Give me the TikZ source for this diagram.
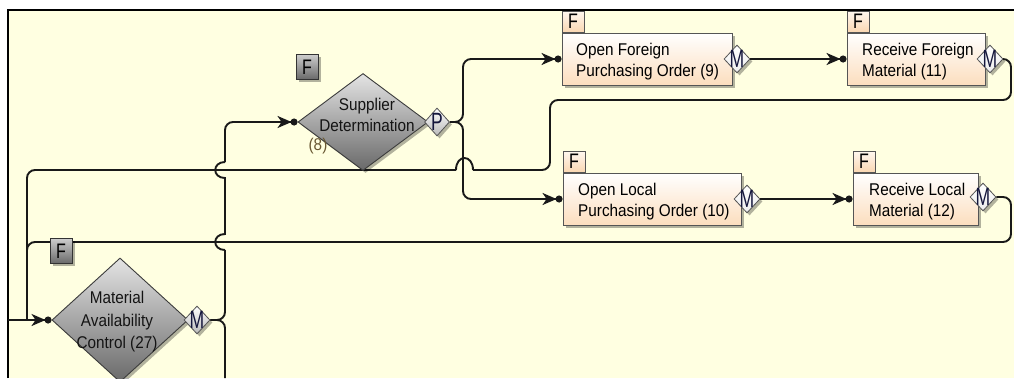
\documentclass[tikz,border=0pt]{standalone}
\usepackage{fontspec}
\setmainfont{Liberation Sans}[FakeStretch=0.9]
\usetikzlibrary{shapes.geometric,arrows.meta,shadows}
\definecolor{bgy}{RGB}{255,255,225}
\definecolor{linec}{RGB}{25,25,25}
\definecolor{dborder}{RGB}{60,60,60}
\definecolor{dtop}{RGB}{228,228,228}
\definecolor{dbot}{RGB}{105,105,105}
\definecolor{peach}{RGB}{252,222,190}
\definecolor{bborder}{RGB}{85,85,85}
\definecolor{ftop}{RGB}{255,248,240}
\definecolor{fbot}{RGB}{250,215,178}
\definecolor{gftop}{RGB}{205,205,205}
\definecolor{gfbot}{RGB}{105,105,105}
\definecolor{mletter}{RGB}{20,22,60}
\definecolor{brownt}{RGB}{105,88,50}
\pgfdeclarelayer{back}
\pgfdeclarelayer{lines}
\pgfsetlayers{back,lines,main}
\begin{document}
\begin{tikzpicture}[x=1pt,y=-1pt,
  font=\fontsize{17}{21}\selectfont,
  conn/.style={line width=1.9pt, draw=linec, rounded corners=8pt},
  jump/.style={line width=1.9pt, draw=linec},
  tipd/.style={-{Stealth[length=14pt,width=12pt,inset=4pt,sep=-1pt]Circle[length=7pt]}},
  shad/.style={drop shadow={shadow xshift=2.5pt,shadow yshift=-2.5pt,fill=black,opacity=.3}},
  bigdia/.style={diamond, draw=dborder, line width=0.9pt, top color=dtop, bottom color=dbot, inner sep=0pt, shad},
  gdia/.style={diamond, draw=bborder, line width=0.8pt, top color=white, bottom color=gray!55, inner sep=0pt, minimum width=26pt, minimum height=28pt, shad},
  wdia/.style={diamond, draw=bborder, line width=0.8pt, top color=white, bottom color=gray!15, inner sep=0pt, minimum width=26pt, minimum height=28pt, shad},
  mlet/.style={inner sep=0pt, text=mletter, font=\fontsize{25}{25}\selectfont},
  pbox/.style={rectangle, draw=bborder, line width=0.9pt, top color=white, bottom color=peach, inner sep=0pt, minimum height=52pt, shad},
  ftab/.style={rectangle, draw=bborder, line width=0.9pt, top color=ftop, bottom color=fbot, inner sep=0pt, minimum width=22pt, minimum height=21pt, font=\fontsize{21}{21}\selectfont},
  gtab/.style={rectangle, draw=black!80, line width=0.9pt, top color=gftop, bottom color=gfbot, inner sep=0pt, minimum width=22pt, minimum height=25pt, font=\fontsize{21}{21}\selectfont, shad},
  txt/.style={inner sep=0pt, text=black, align=left},
  ctxt/.style={inner sep=0pt, text=black!92, align=center}
]
\useasboundingbox (0,0) rectangle (1014,378);
\begin{pgfonlayer}{back}
\fill[white] (0,0) rectangle (1014,378);
\fill[bgy] (8,10) rectangle (1014,378);
\draw[line width=2.5pt] (8,378) -- (8,10) -- (1014,10);
\end{pgfonlayer}

% ---------- nodes ----------
\node[bigdia, minimum width=136pt, minimum height=124pt] (mac) at (120,320) {};
\node[gdia, label={[mlet]center:\scalebox{0.78}[1]{M}}] (macM) at (197,320) {};
\node[gtab] (macF) at (61,251) {\scalebox{0.85}[1]{F}};
\node[ctxt, font=\fontsize{17}{22.5}\selectfont] (macT) at (117,322) {Material\\Availability\\Control (27)};

\node[bigdia, minimum width=130pt, minimum height=97pt] (sd) at (363,122) {};
\node[gdia, minimum width=25pt, label={[mlet]center:\scalebox{0.78}[1]{P}}] (sdP) at (437,122) {};
\node[gtab] (sdF) at (307,67) {\scalebox{0.85}[1]{F}};
\node[ctxt] (sdT) at (367,115) {Supplier\\Determination};
\node[inner sep=0pt, text=brownt] (sd8) at (318,146) {(8)};

\node[pbox, minimum width=170pt] (ofo) at (647,59) {};
\node[ftab, anchor=south west] (ofoF) at (ofo.north west) {\scalebox{0.85}[1]{F}};
\node[wdia, label={[mlet]center:\scalebox{0.78}[1]{M}}] (ofoM) at (737,59) {};
\node[txt, anchor=west] (ofoT) at (576,62) {Open Foreign\\Purchasing Order (9)};

\node[pbox, minimum width=138pt] (rfm) at (916,59) {};
\node[ftab, anchor=south west] (rfmF) at (rfm.north west) {\scalebox{0.85}[1]{F}};
\node[wdia, label={[mlet]center:\scalebox{0.78}[1]{M}}] (rfmM) at (990,59) {};
\node[txt, anchor=west] (rfmT) at (862,62) {Receive Foreign\\Material (11)};

\node[pbox, minimum width=178pt] (olo) at (652,199) {};
\node[ftab, anchor=south west] (oloF) at (olo.north west) {\scalebox{0.85}[1]{F}};
\node[wdia, label={[mlet]center:\scalebox{0.78}[1]{M}}] (oloM) at (747,199) {};
\node[txt, anchor=west] (oloT) at (578,202) {Open Local\\Purchasing Order (10)};

\node[pbox, minimum width=125pt] (rlm) at (915.5,199) {};
\node[ftab, anchor=south west] (rlmF) at (rlm.north west) {\scalebox{0.85}[1]{F}};
\node[wdia, label={[mlet]center:\scalebox{0.78}[1]{M}}] (rlmM) at (983,197) {};
\node[txt, anchor=west] (rlmT) at (869,202) {Receive Local\\Material (12)};

% ---------- coordinates ----------
\coordinate (in) at (8,320);
\coordinate (s1) at (225,320);
\coordinate (s1b) at (225,378);
\coordinate (s2) at (463,122);
\coordinate (m27) at (27,320);

% ---------- connectors ----------
\begin{pgfonlayer}{lines}
\draw[conn,tipd] (in) -- (mac.west);
% mac -> supplier (with jumps)
\draw[conn] (macM.east) -- (s1) -- (225,250);
\draw[jump] (225,250) .. controls (212,250) and (212,234) .. (225,234) -- (225,178)
  .. controls (212,178) and (212,162) .. (225,162);
\draw[conn,tipd] (225,162) -- (225,122) -- (sd.west);
\draw[conn] (macM.east) -- (s1) -- (s1b);
% supplier -> orders
\draw[conn,tipd] (sdP.east) -- (s2) -- (463,59) -- (ofo.west);
\draw[conn,tipd] (sdP.east) -- (s2) -- (463,199) -- (olo.west);
% orders -> receive
\draw[conn,tipd] (ofoM.east) -- (rfm.west);
\draw[conn,tipd] (oloM.east) -- (rlm.west);
% return foreign
\draw[conn] (rfmM.east) -- (1011,59) -- (1011,100) -- (550,100) -- (550,170) -- (473,170);
\draw[jump] (473,170) .. controls (473,154) and (456,154) .. (456,170);
\draw[conn] (456,170) -- (27,170) -- (m27);
% return local
\draw[conn] (rlmM.east) -- (1011,197) -- (1011,242) -- (27,242) -- (m27);
\end{pgfonlayer}
\end{tikzpicture}
\end{document}
